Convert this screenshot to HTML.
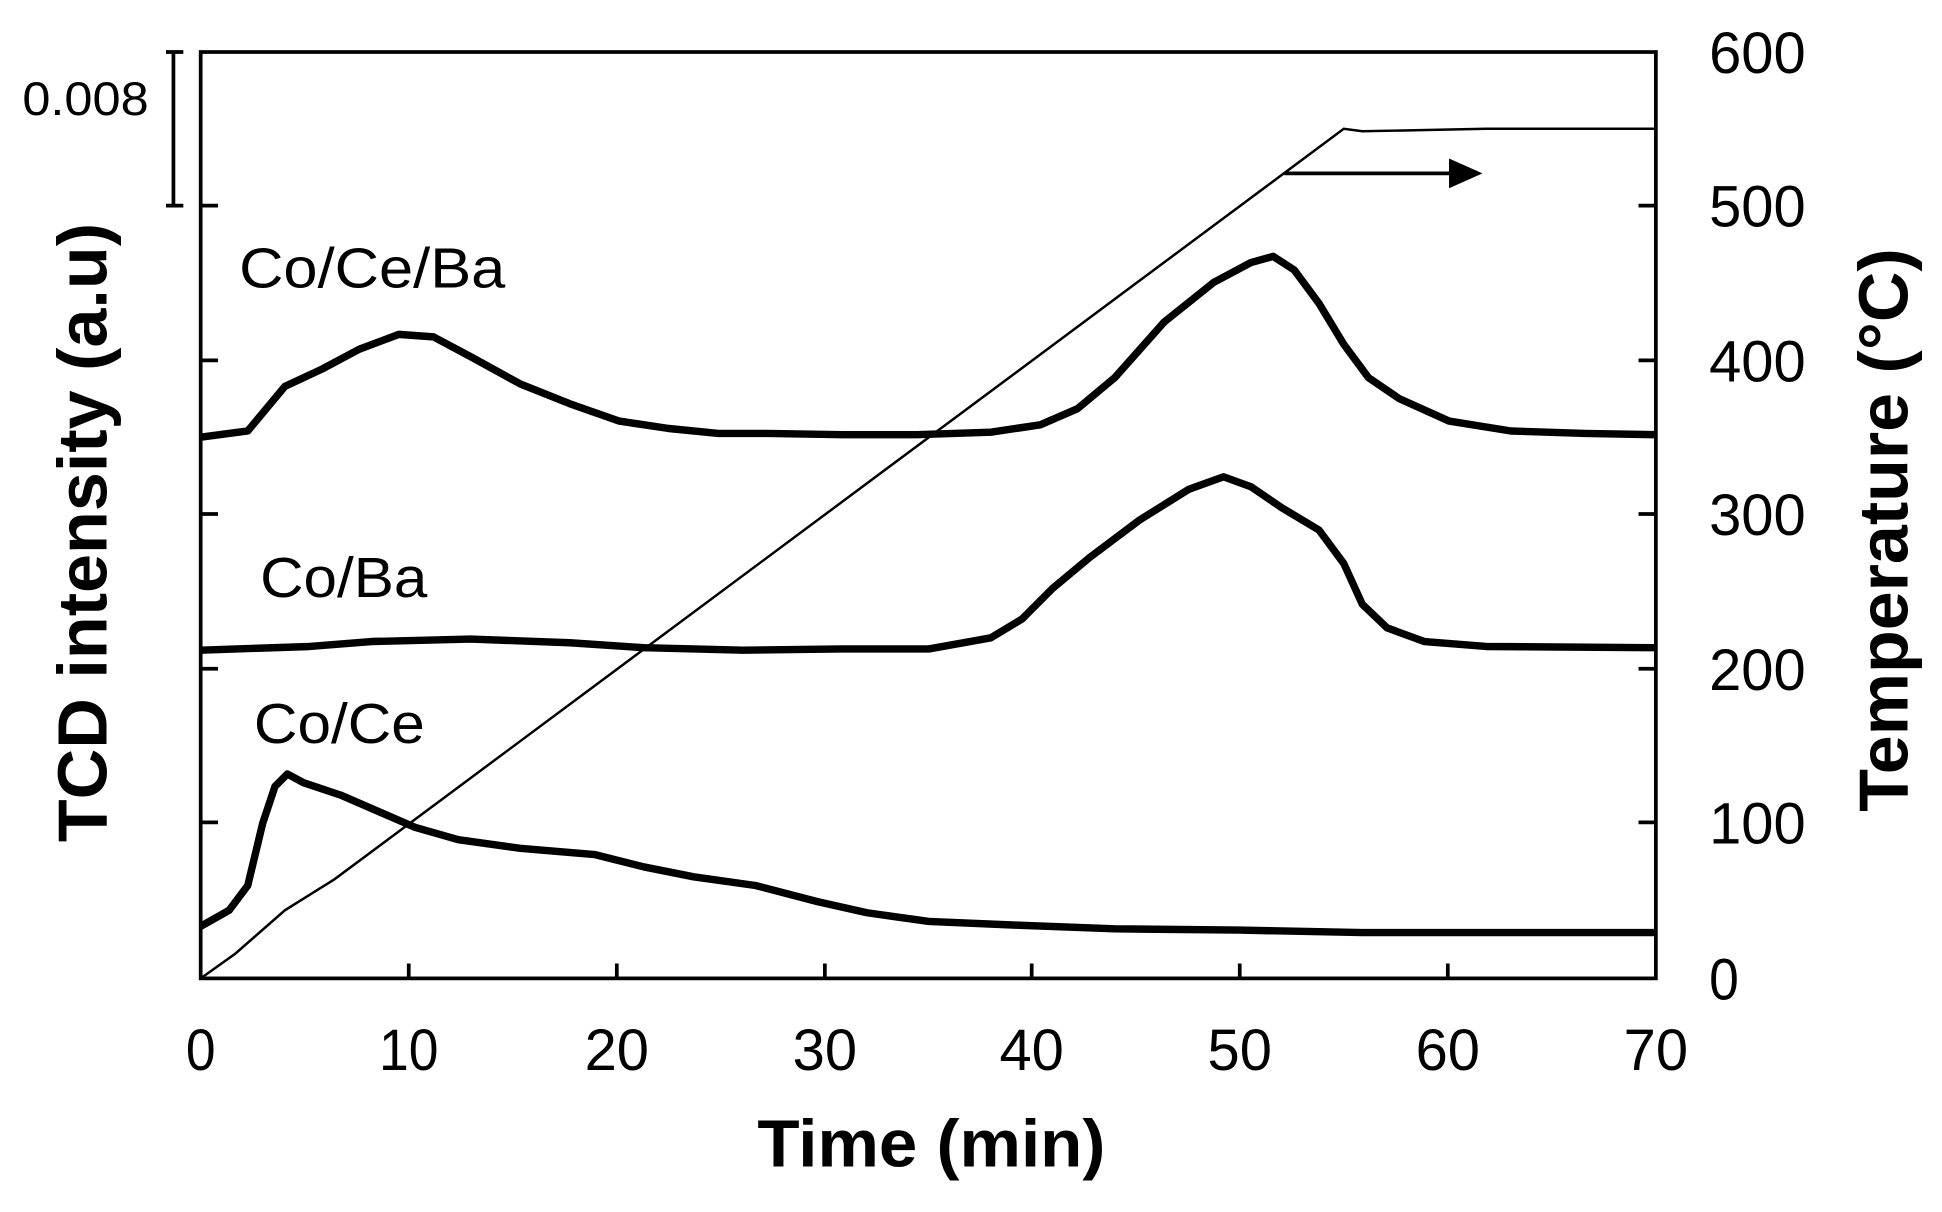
<!DOCTYPE html>
<html><head><style>html,body{margin:0;padding:0;background:#fff}</style></head>
<body>
<svg width="1942" height="1207" viewBox="0 0 1568 974.6" xmlns="http://www.w3.org/2000/svg" font-family="Liberation Sans, sans-serif">
<rect x="162" y="42" width="1175" height="748" fill="none" stroke="#000" stroke-width="3"/>
<g stroke="#000" stroke-width="3">
<line x1="330" y1="790" x2="330" y2="778"/><line x1="498" y1="790" x2="498" y2="778"/><line x1="666" y1="790" x2="666" y2="778"/><line x1="833" y1="790" x2="833" y2="778"/><line x1="1001" y1="790" x2="1001" y2="778"/><line x1="1169" y1="790" x2="1169" y2="778"/>
<line x1="162" y1="166" x2="176" y2="166"/><line x1="162" y1="291" x2="176" y2="291"/><line x1="162" y1="415" x2="176" y2="415"/><line x1="162" y1="540" x2="176" y2="540"/><line x1="162" y1="664" x2="176" y2="664"/>
<line x1="1337" y1="166" x2="1323" y2="166"/><line x1="1337" y1="291" x2="1323" y2="291"/><line x1="1337" y1="415" x2="1323" y2="415"/><line x1="1337" y1="540" x2="1323" y2="540"/><line x1="1337" y1="664" x2="1323" y2="664"/>
<line x1="140" y1="42" x2="140" y2="166"/><line x1="134" y1="42" x2="148" y2="42"/><line x1="134" y1="166" x2="148" y2="166"/>
</g>
<text x="18" y="93" font-size="38" textLength="102" lengthAdjust="spacingAndGlyphs">0.008</text>
<g font-size="47" text-anchor="middle">
<text x="162" y="864" textLength="24" lengthAdjust="spacingAndGlyphs">0</text><text x="330" y="864" textLength="48" lengthAdjust="spacingAndGlyphs">10</text><text x="498" y="864" textLength="52" lengthAdjust="spacingAndGlyphs">20</text><text x="666" y="864" textLength="52" lengthAdjust="spacingAndGlyphs">30</text><text x="833" y="864" textLength="52" lengthAdjust="spacingAndGlyphs">40</text><text x="1001" y="864" textLength="52" lengthAdjust="spacingAndGlyphs">50</text><text x="1169" y="864" textLength="52" lengthAdjust="spacingAndGlyphs">60</text><text x="1337" y="864" textLength="52" lengthAdjust="spacingAndGlyphs">70</text>
</g>
<g font-size="47">
<text x="1380" y="807" textLength="24" lengthAdjust="spacingAndGlyphs">0</text><text x="1380" y="681" textLength="78" lengthAdjust="spacingAndGlyphs">100</text><text x="1380" y="557" textLength="78" lengthAdjust="spacingAndGlyphs">200</text><text x="1380" y="432" textLength="78" lengthAdjust="spacingAndGlyphs">300</text><text x="1380" y="308" textLength="78" lengthAdjust="spacingAndGlyphs">400</text><text x="1380" y="183" textLength="78" lengthAdjust="spacingAndGlyphs">500</text><text x="1380" y="59" textLength="78" lengthAdjust="spacingAndGlyphs">600</text>
</g>
<text x="752" y="942" font-size="54" font-weight="bold" text-anchor="middle" textLength="281" lengthAdjust="spacingAndGlyphs">Time (min)</text>
<text transform="translate(86,430) rotate(-90)" font-size="56" font-weight="bold" text-anchor="middle" textLength="500" lengthAdjust="spacingAndGlyphs">TCD intensity (a.u)</text>
<text transform="translate(1540,428) rotate(-90)" font-size="56" font-weight="bold" text-anchor="middle" textLength="455" lengthAdjust="spacingAndGlyphs">Temperature (°C)</text>
<g font-size="46"><text x="193" y="232" textLength="215" lengthAdjust="spacingAndGlyphs">Co/Ce/Ba</text><text x="210" y="482" textLength="135" lengthAdjust="spacingAndGlyphs">Co/Ba</text><text x="205" y="600" textLength="138" lengthAdjust="spacingAndGlyphs">Co/Ce</text></g>
<polyline fill="none" stroke="#000" stroke-width="2" points="162,790 190,770 230,735 270,710 1085,104 1100,106 1200,104 1337,104"/>
<line x1="1037" y1="140" x2="1175" y2="140" stroke="#000" stroke-width="3"/>
<polygon points="1197,140 1170,128 1170,152" fill="#000"/>
<g fill="none" stroke="#000" stroke-width="6" stroke-linejoin="round">
<polyline points="162,353 200,348 230,312 260,298 290,282 322,270 350,272 380,288 420,310 460,326 500,340 540,346 580,350 620,350 680,351 740,351 800,349 840,343 870,330 900,305 940,260 980,228 1010,212 1028,207 1045,218 1065,245 1085,278 1105,305 1130,322 1170,340 1220,348 1280,350 1337,351"/>
<polyline points="162,525 250,522 300,518 380,516 460,519 520,523 600,525 680,524 750,524 800,515 825,500 850,475 880,450 920,420 960,395 988,385 1010,393 1035,410 1065,428 1085,455 1100,488 1120,507 1150,518 1200,522 1337,523"/>
<polyline points="162,748 185,735 200,715 212,665 222,635 232,625 245,632 275,642 305,655 335,668 370,678 420,685 480,690 520,700 560,708 610,715 660,728 700,737 750,744 820,747 900,750 1000,751 1100,753 1337,753"/>
</g>
</svg>
</body></html>
